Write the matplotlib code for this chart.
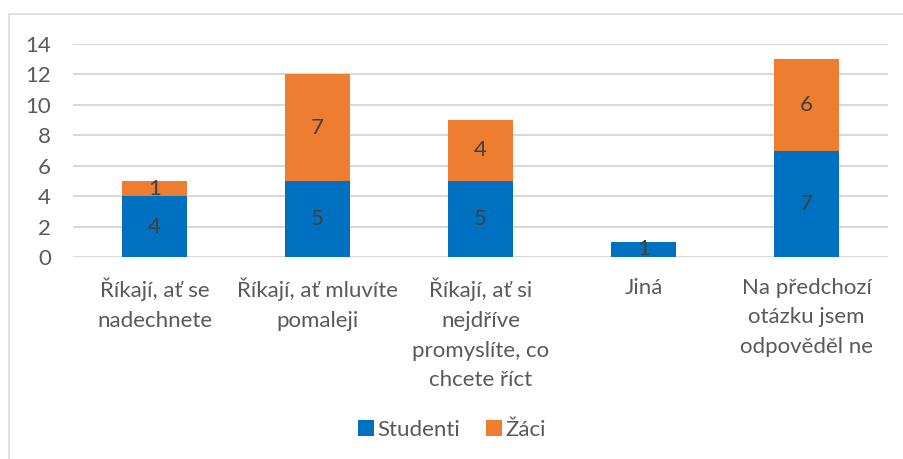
import numpy as np
import matplotlib.pyplot as plt
from matplotlib.patches import Rectangle

categories = ["Říkají, ať se\nnadechnete", "Říkají, ať mluvíte\npomaleji",
              "Říkají, ať si\nnejdříve\npromyslíte, co\nchcete říct", "Jiná",
              "Na předchozí\notázku jsem\nodpověděl ne"]
studenti = [4, 5, 5, 1, 7]
zaci = [1, 7, 4, 0, 6]

plt.rcParams['font.family'] = ['Lato', 'DejaVu Sans']

fig = plt.figure(figsize=(9.04, 4.59), dpi=100)
ax = fig.add_axes([73/904, 1-257/459, (888-73)/904, (257-44)/459])

# chart frame (cropped at right and bottom)
fig.patches.append(Rectangle((9/904, -0.1), 1.2, 1-14/459+0.1, transform=fig.transFigure,
                             fill=False, edgecolor='#d9d9d9', linewidth=1.2))

x = np.arange(len(categories))
b1 = ax.bar(x, studenti, width=0.4, color='#0070c0', label='Studenti', zorder=3)
b2 = ax.bar(x, zaci, width=0.4, bottom=studenti, color='#ed7d31', label='Žáci', zorder=3)

for bars, vals in ((b1, studenti), (b2, zaci)):
    for r, v in zip(bars, vals):
        if v == 0:
            continue
        ax.text(r.get_x() + r.get_width()/2, r.get_y() + r.get_height()/2, str(v),
                ha='center', va='center', fontsize=16, color='#404040', zorder=4)

ax.set_xlim(-0.5, 4.5)
ax.set_ylim(0, 14)
ax.set_yticks(range(0, 15, 2))
ax.yaxis.grid(True, color='#d9d9d9', linewidth=1.5, zorder=0)
for s in ax.spines.values():
    s.set_visible(False)
ax.tick_params(axis='both', length=0, colors='#595959', labelsize=16)
ax.tick_params(axis='y', pad=16)
ax.tick_params(axis='x', pad=15)
ax.set_xticks(x)
ax.set_xticklabels(categories, linespacing=1.6)

leg = fig.legend(handles=[b1, b2], loc='center', bbox_to_anchor=(0.5, 1-430/459), ncol=2,
                 frameon=False, fontsize=16, handlelength=0.7, handleheight=0.7,
                 handletextpad=0.15, columnspacing=1.2, labelcolor='#595959')

fig.savefig('out.png', dpi=100)
